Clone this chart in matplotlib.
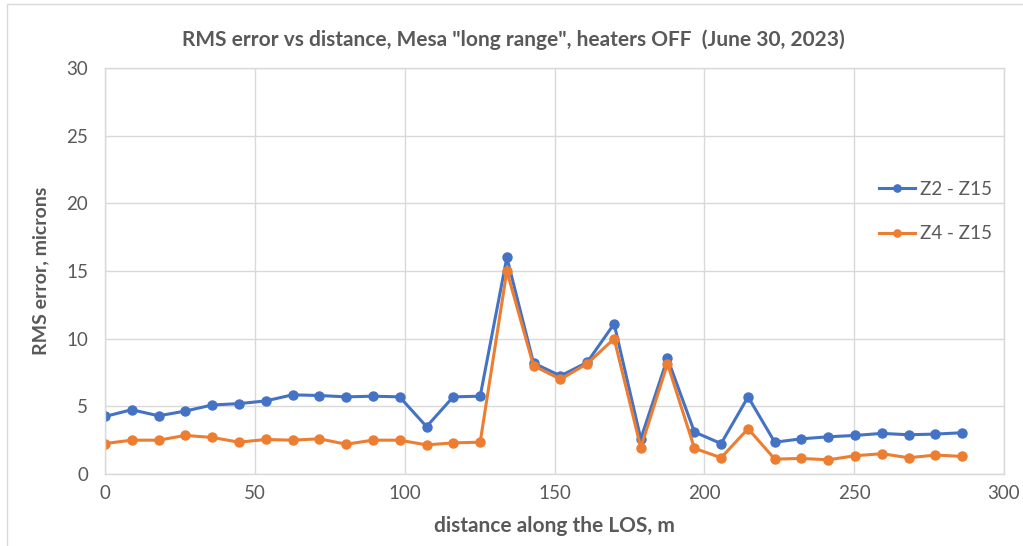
import matplotlib
matplotlib.use("Agg")
import matplotlib.pyplot as plt
from matplotlib.patches import Rectangle

distance_m = [0, 8.9, 17.9, 26.8, 35.8, 44.7, 53.6, 62.6, 71.5, 80.5, 89.4,
              98.3, 107.3, 116.2, 125.2, 134.1, 143.0, 152.0, 160.9, 169.9,
              178.8, 187.7, 196.7, 205.6, 214.6, 223.5, 232.4, 241.4, 250.3,
              259.3, 268.2, 277.1, 286.1]
z2_z15 = [4.25, 4.75, 4.3, 4.65, 5.1, 5.2, 5.4, 5.85, 5.8, 5.7, 5.75,
          5.7, 3.5, 5.7, 5.75, 16.0, 8.2, 7.25, 8.25, 11.1,
          2.6, 8.55, 3.1, 2.25, 5.7, 2.35, 2.6, 2.75, 2.85,
          3.0, 2.9, 2.95, 3.05]
z4_z15 = [2.25, 2.5, 2.5, 2.85, 2.7, 2.35, 2.55, 2.5, 2.6, 2.2, 2.5,
          2.5, 2.15, 2.3, 2.35, 15.0, 8.0, 7.0, 8.15, 10.0,
          1.95, 8.15, 1.9, 1.2, 3.35, 1.1, 1.15, 1.05, 1.35,
          1.5, 1.2, 1.4, 1.3]
series_labels = ["Z2 - Z15", "Z4 - Z15"]
x_ticks = [0, 50, 100, 150, 200, 250, 300]
y_ticks = [0, 5, 10, 15, 20, 25, 30]

title = 'RMS error vs distance, Mesa "long range", heaters OFF  (June 30, 2023)'
xlabel = "distance along the LOS, m"
ylabel = "RMS error, microns"

plt.rcParams['font.family'] = ['Lato', 'DejaVu Sans']
text_color = "#595959"
grid_color = "#D9D9D9"

fig = plt.figure(figsize=(10.23, 5.46), dpi=100)
ax = fig.add_axes([105/1023, 1 - 474/546, (1004-105)/1023, (474-68)/546])

ax.plot(distance_m, z2_z15, color="#4472C4", lw=2.2, marker="o", ms=6.5,
        label=series_labels[0])
ax.plot(distance_m, z4_z15, color="#ED7D31", lw=2.2, marker="o", ms=6.5,
        label=series_labels[1])

ax.set_xlim(0, 300)
ax.set_ylim(0, 30)
ax.set_xticks(x_ticks)
ax.set_yticks(y_ticks)
ax.grid(True, color=grid_color, lw=1)
ax.set_axisbelow(True)
for s in ax.spines.values():
    s.set_color(grid_color)
    s.set_linewidth(1)
ax.tick_params(length=0, labelsize=13.5, labelcolor=text_color, pad=8)
ax.tick_params(axis='y', pad=12)

ax.set_xlabel(xlabel, fontsize=15, fontweight='bold', color=text_color, labelpad=10)
ax.set_ylabel(ylabel, fontsize=14, fontweight='bold', color=text_color, labelpad=12)
fig.text(513/1023, 1 - 40/546, title, ha='center', va='center', fontsize=15,
         fontweight='bold', color=text_color)

leg = ax.legend(loc='upper left', bbox_to_anchor=(862/1023, 1 - 164/546),
                bbox_transform=fig.transFigure, frameon=False, fontsize=13.5,
                handlelength=1.9, labelspacing=1.45, handletextpad=0.3,
                markerscale=0.8)
for t in leg.get_texts():
    t.set_color(text_color)

fig.patches.append(Rectangle((7/1023, -0.05), 1.1, 1 - 4/546 + 0.05,
                             transform=fig.transFigure, fill=False,
                             edgecolor=grid_color, lw=1))

fig.savefig("out.png", dpi=100)
